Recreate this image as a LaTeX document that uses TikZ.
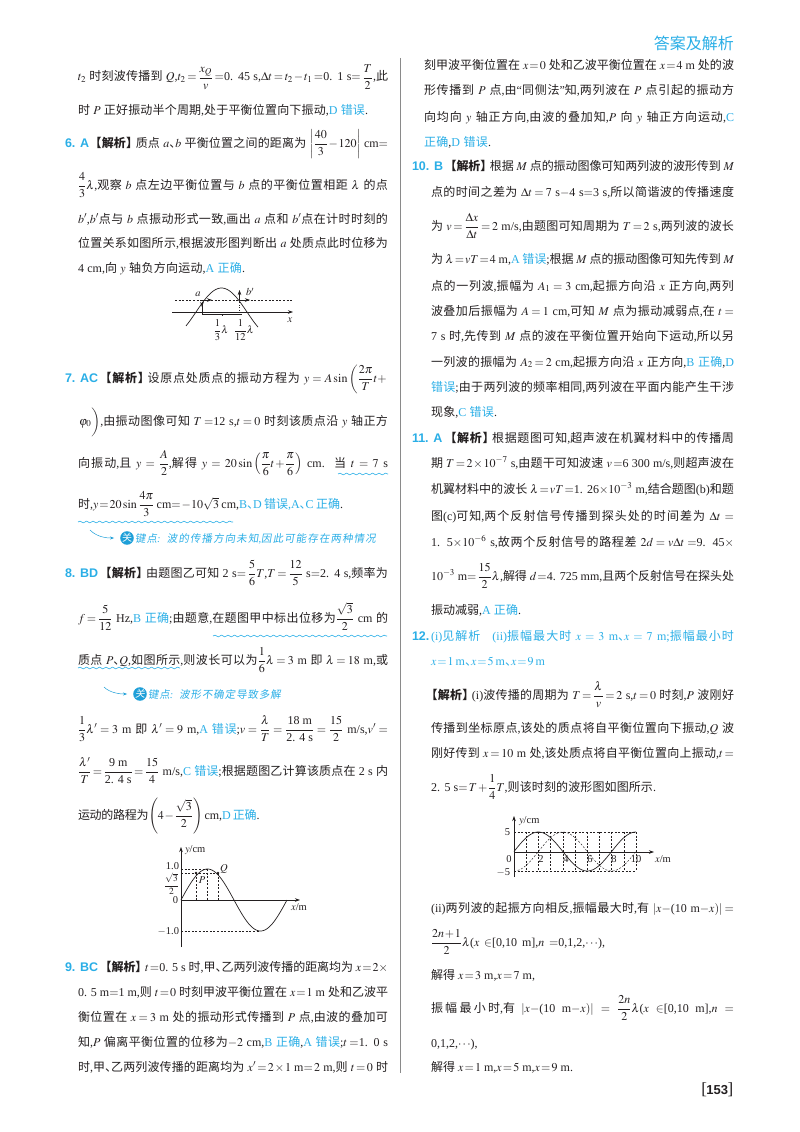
\documentclass[tikz,border=0pt]{standalone}
\usepackage{mathptmx}
\usepackage{fontspec}
\usetikzlibrary{arrows.meta,decorations.pathmorphing}
\setmainfont{Liberation Serif}
\newfontfamily\sansb[BoldFont=Liberation Sans Bold]{Liberation Sans}
\newfontfamily\cjkfont{Noto Sans CJK SC}
\newfontfamily\cjkslfont[FakeSlant=0.15]{Noto Sans CJK SC}
\let\cjkcur\cjkfont
\newcount\cc
\cc="21 \loop \XeTeXcharclass\cc=0 \advance\cc 1 \ifnum\cc<"7F \repeat
\XeTeXcharclass"201C=0 \XeTeXcharclass"201D=0
\cc="3000 \loop \XeTeXcharclass\cc=7 \advance\cc 1 \ifnum\cc<"3040 \repeat
\cc="4E00 \loop \XeTeXcharclass\cc=7 \advance\cc 1 \ifnum\cc<"A000 \repeat
\cc="FF00 \loop \XeTeXcharclass\cc=7 \advance\cc 1 \ifnum\cc<"FFF0 \repeat
\XeTeXinterchartoks 0 7 = {\begingroup\cjkcur}
\XeTeXinterchartoks 4095 7 = {\begingroup\cjkcur}
\XeTeXinterchartoks 7 0 = {\endgroup}
\XeTeXinterchartoks 7 4095 = {\endgroup}
\XeTeXinterchartoks 7 7 = {\hskip 0pt plus 1pt minus 0.3pt\relax}
\AtBeginDocument{\XeTeXinterchartokenstate=1 \thickmuskip=1.5mu plus 4mu\relax \medmuskip=1mu plus 2mu\relax}
\definecolor{ink}{HTML}{231F20}
\definecolor{ans}{HTML}{2AAEE6}
\definecolor{keyb}{HTML}{1E9FD8}
\definecolor{rulec}{HTML}{8A8A8A}
\newcommand\cy[1]{\textcolor{ans}{#1}}
\newcommand\df[2]{{\displaystyle\frac{#1}{#2}}}
\newcommand\dn{、\kern-.5em}
\newcommand\jx{\kern-.45em{\bfseries 【解析】}\kern-.2em}
\newcount\lc
\newcommand\jl[4]{\global\advance\lc 1 \node[ln] (t\the\lc) at (#1,#2) {\makebox[\dimexpr#3pt-#1pt\relax][s]{#4}};}
\newcommand\lab[3]{\global\advance\lc 1 \node[ln,text=ans] (t\the\lc) at (#1,#2) {\sansb\bfseries\fontsize{12.5}{14}\selectfont #3};}
\tikzset{
  ln/.style={anchor=base west,inner sep=0pt,outer sep=0pt,text=ink,font=\fontsize{12}{14}\selectfont},
  small/.style={inner sep=0pt,outer sep=0pt,text=ink,font=\fontsize{10.5}{12}\selectfont},
  wave/.style={ans,line width=.6pt,decorate,decoration={snake,segment length=6.5pt,amplitude=.9pt}},
  axis/.style={ink,line width=.55pt,-{Stealth[length=5pt,width=3.5pt]}},
  curve/.style={ink,line width=.7pt},
  guide/.style={ink,line width=.45pt,dash pattern=on 2pt off 1.6pt},
  keyarrow/.style={keyb,line width=.5pt,-{Stealth[length=4pt,width=3pt]}},
  keydot/.style={circle,fill=keyb,inner sep=0pt,minimum size=12.5pt,text=white,font=\fontsize{10}{11}\selectfont},
  pt/.style={circle,fill=ink,inner sep=0pt,minimum size=2.6pt},
}
\begin{document}
\begin{tikzpicture}[x=1pt,y=-1pt]
\useasboundingbox (0,0) rectangle (800,1132);
% header, rule, page number
\node[anchor=base east,inner sep=0pt,text=ans,font=\fontsize{16}{18}\selectfont] (head) at (734,50) {答案及解析};
\coordinate (r1) at (400,58); \coordinate (r2) at (400,1073);
\draw[rulec,line width=.7pt] (r1) -- (r2);
\node[anchor=base east,inner sep=0pt,text=ink] (pageno) at (733.5,1094) {\fontsize{17}{17}\selectfont [\kern-.5pt{\sansb\bfseries\fontsize{13}{14}\selectfont 153}\kern-.5pt]};
% left column
\jl{78}{81}{388}{$t_2$ 时刻波传播到 $Q$,$t_2=\df{x_Q}{v}=$0. 45 s,$\Delta t=t_2-t_1=$0. 1 s$=\df{T}{2}$,此}
\jl{78}{114}{368}{时 $P$ 正好振动半个周期,处于平衡位置向下振动,\cy{D 错误}.}
\lab{65}{147}{6. A}
\jl{95}{147}{388}{\jx 质点 $a$\dn $b$ 平衡位置之间的距离为 $\left|\df{40}{3}-120\right|$ cm$=$}
\jl{78}{189}{388}{$\df{4}{3}\lambda$,观察 $b$ 点左边平衡位置与 $b$ 点的平衡位置相距 $\lambda$ 的点}
\jl{78}{223}{388}{$b'$,$b'$点与 $b$ 点振动形式一致,画出 $a$ 点和 $b'$点在计时时刻的}
\jl{78}{247}{388}{位置关系如图所示,根据波形图判断出 $a$ 处质点此时位移为}
\jl{78}{272}{245}{4 cm,向 $y$ 轴负方向运动,\cy{A 正确}.}
\lab{65}{382}{7. AC}
\jl{105}{382}{388}{\jx 设原点处质点的振动方程为 $y=A\sin\left(\df{2\pi}{T}t+\right.$}
\jl{78}{425}{388}{$\left.\varphi_0\vphantom{\df{2\pi}{T}}\right)$,由振动图像可知 $T=$12 s,$t=0$ 时刻该质点沿 $y$ 轴正方}
\jl{78}{467}{388}{向振动,且 $y=\df{A}{2}$,解得 $y=20\sin\left(\df{\pi}{6}t+\df{\pi}{6}\right)$ cm. 当 $t=7$ s}
\jl{78}{508}{343}{时,$y=20\sin\df{4\pi}{3}$ cm$=-10\sqrt{3}$ cm,\cy{B\dn D 错误,A\dn C 正确}.}
\lab{65}{577}{8. BD}
\jl{105}{577}{388}{\jx 由题图乙可知 2 s$=\df{5}{6}T$,$T=\df{12}{5}$ s$=$2. 4 s,频率为}
\jl{78}{622}{388}{$f=\df{5}{12}$ Hz,\cy{B 正确};由题意,在题图甲中标出位移为$\df{\sqrt{3}}{2}$ cm 的}
\jl{78}{664}{388}{质点 $P$\dn $Q$,如图所示,则波长可以为$\df{1}{6}\lambda=3$ m 即 $\lambda=18$ m,或}
\jl{78}{733}{388}{$\df{1}{3}\lambda'=3$ m 即 $\lambda'=9$ m,\cy{A 错误};$v=\df{\lambda}{T}=\df{\mbox{18 m}}{\mbox{2. 4 s}}=\df{15}{2}$ m/s,$v'=$}
\jl{78}{775}{388}{$\df{\lambda'}{T}=\df{\mbox{9 m}}{\mbox{2. 4 s}}=\df{15}{4}$ m/s,\cy{C 错误};根据题图乙计算该质点在 2 s 内}
\jl{78}{819}{255}{运动的路程为$\left(4-\df{\sqrt{3}}{2}\right)$ cm,\cy{D 正确}.}
\lab{65}{971}{9. BC}
\jl{105}{971}{388}{\jx $t=$0. 5 s 时,甲\dn 乙两列波传播的距离均为 $x=2\times$}
\jl{78}{996}{388}{0. 5 m$=$1 m,则 $t=0$ 时刻甲波平衡位置在 $x=1$ m 处和乙波平}
\jl{78}{1021}{388}{衡位置在 $x=3$ m 处的振动形式传播到 $P$ 点,由波的叠加可}
\jl{78}{1046}{388}{知,$P$ 偏离平衡位置的位移为$-2$ cm,\cy{B 正确},\cy{A 错误};$t=$1. 0 s}
\jl{78}{1071}{388}{时,甲\dn 乙两列波传播的距离均为 $x'=2\times1$ m$=2$ m,则 $t=0$ 时}
% right column
\jl{424}{70}{734}{刻甲波平衡位置在 $x=0$ 处和乙波平衡位置在 $x=4$ m 处的波}
\jl{424}{95}{734}{形传播到 $P$ 点,由“同侧法”知,两列波在 $P$ 点引起的振动方}
\jl{424}{121}{734}{向均向 $y$ 轴正方向,由波的叠加知,$P$ 向 $y$ 轴正方向运动,\cy{C}}
\jl{424}{146}{491}{\cy{正确},\cy{D 错误}.}
\lab{412}{170}{10. B}
\jl{450}{170}{734}{\jx 根据 $M$ 点的振动图像可知两列波的波形传到 $M$}
\jl{431}{196}{734}{点的时间之差为 $\Delta t=7$ s$-$4 s$=$3 s,所以简谐波的传播速度}
\jl{431}{230}{734}{为 $v=\df{\Delta x}{\Delta t}=2$ m/s,由题图可知周期为 $T=2$ s,两列波的波长}
\jl{431}{263}{734}{为 $\lambda=vT=4$ m,\cy{A 错误};根据 $M$ 点的振动图像可知先传到 $M$}
\jl{431}{290}{734}{点的一列波,振幅为 $A_1=3$ cm,起振方向沿 $x$ 正方向,两列}
\jl{431}{315}{734}{波叠加后振幅为 $A=1$ cm,可知 $M$ 点为振动减弱点,在 $t=$}
\jl{431}{340}{734}{7 s 时,先传到 $M$ 点的波在平衡位置开始向下运动,所以另}
\jl{431}{366}{734}{一列波的振幅为 $A_2=2$ cm,起振方向沿 $x$ 正方向,\cy{B 正确},\cy{D}}
\jl{431}{391}{734}{\cy{错误};由于两列波的频率相同,两列波在平面内能产生干涉}
\jl{431}{416}{497}{现象,\cy{C 错误}.}
\lab{412}{442}{11. A}
\jl{450}{442}{734}{\jx 根据题图可知,超声波在机翼材料中的传播周}
\jl{431}{467}{734}{期 $T=2\times10^{-7}$ s,由题干可知波速 $v=$6 300 m/s,则超声波在}
\jl{431}{493}{734}{机翼材料中的波长 $\lambda=vT=$1. 26$\times10^{-3}$ m,结合题图(b)和题}
\jl{431}{520}{734}{图(c)可知,两个反射信号传播到探头处的时间差为 $\Delta t=$}
\jl{431}{546}{734}{1. 5$\times10^{-6}$ s,故两个反射信号的路程差 $2d=v\Delta t=$9. 45$\times$}
\jl{431}{580}{734}{$10^{-3}$ m$=\df{15}{2}\lambda$,解得 $d=$4. 725 mm,且两个反射信号在探头处}
\jl{431}{614}{521}{振动减弱,\cy{A 正确}.}
\lab{412}{640}{12.}
\jl{431}{640}{734}{\cy{(i)见解析\quad (ii)振幅最大时 $x=3$ m\dn $x=7$ m;振幅最小时}}
\jl{431}{665}{545}{\cy{$x=1$ m\dn $x=5$ m\dn $x=9$ m}}
\jl{431}{699}{734}{\jx (i)波传播的周期为 $T=\df{\lambda}{v}=2$ s,$t=0$ 时刻,$P$ 波刚好}
\jl{431}{732}{734}{传播到坐标原点,该处的质点将自平衡位置向下振动,$Q$ 波}
\jl{431}{757}{734}{刚好传到 $x=10$ m 处,该处质点将自平衡位置向上振动,$t=$}
\jl{431}{791}{656}{2. 5 s$=T+\df{1}{4}T$,则该时刻的波形图如图所示.}
\jl{431}{912}{734}{(ii)两列波的起振方向相反,振幅最大时,有 $|x-$(10 m$-x)|=$}
\jl{431}{946}{605}{$\df{2n+1}{2}\lambda$($x\in$[0,10 m],$n=$0,1,2,$\cdots$),}
\jl{431}{979}{535}{解得 $x=3$ m,$x=7$ m,}
\jl{431}{1012}{734}{振幅最小时,有 $|x-$(10 m$-x)|=\df{2n}{2}\lambda$($x\in$[0,10 m],$n=$}
\jl{431}{1047}{492}{0,1,2,$\cdots$),}
\jl{431}{1071}{573}{解得 $x=1$ m,$x=5$ m,$x=9$ m.}
% wavy underlines
\coordinate (w1a) at (338,474); \coordinate (w1b) at (388,474); \draw[wave] (w1a) -- (w1b);
\coordinate (w2a) at (78,522); \coordinate (w2b) at (233,522); \draw[wave] (w2a) -- (w2b);
\coordinate (w3a) at (213,636); \coordinate (w3b) at (387,636); \draw[wave] (w3a) -- (w3b);
\coordinate (w4a) at (78,668); \coordinate (w4b) at (180,668); \draw[wave] (w4a) -- (w4b);
% key points
\node[keydot] (k1) at (127,538) {关};
\coordinate (k1s) at (90,530);
\draw[keyarrow,shorten >=6pt] (k1s) .. controls (97,537) and (106,538) .. (k1);
\let\cjkcur\cjkslfont
\global\advance\lc 1 \node[ln,text=ans,font=\fontsize{10.5}{12}\selectfont\itshape] (t\the\lc) at (135,542) {\makebox[241pt][s]{键点: 波的传播方向未知,因此可能存在两种情况}};
\node[keydot] (k2) at (140,694) {关};
\coordinate (k2s) at (104,687);
\draw[keyarrow,shorten >=6pt] (k2s) .. controls (110,693) and (120,694) .. (k2);
\global\advance\lc 1 \node[ln,text=ans,font=\fontsize{10.5}{12}\selectfont\itshape] (t\the\lc) at (148,698) {\makebox[133pt][s]{键点: 波形不确定导致多解}};
\let\cjkcur\cjkfont
% figure 1
\draw[guide,line width=.6pt] (175,300) -- (292,300);
\draw[axis] (172,312) -- (293,312);
\draw[curve] plot[domain=186:258,samples=60] (\x,{312-24*cos((\x-221.5)/25.5*90)});
\draw[ink,line width=.5pt] (202,303) -- (202,314) -- (242,314);
\draw[ink,line width=.5pt] (222,314) -- (222,315.5);
\draw[guide,dotted] (239.5,300) -- (239.5,314);
\draw[axis] (202,300) -- (212,300);
\draw[axis] (202,302) -- (202,307);
\draw[axis] (239.5,300) -- (239.5,290);
\draw[axis] (239.5,300) -- (250,300);
\node[small] (fa) at (198,294.5) {$a$};
\node[small] (fb) at (250,292) {$b'$};
\node[small] (fx) at (290,320) {$x$};
\node[small] (f13) at (221,330) {$\df{1}{3}\lambda$};
\node[small] (f112) at (244,330) {$\df{1}{12}\lambda$};
% figure 2
\draw[axis] (181,947) -- (181,847);
\draw[axis] (181,900) -- (300,900);
\draw[curve] plot[domain=181:287,samples=80] (\x,{900-31*sin((\x-181)/106*360)});
\draw[guide] (181,869) -- (207,869);
\draw[guide] (181,873) -- (218,873);
\draw[guide] (196,873) -- (196,900);
\draw[guide] (207,869) -- (207,900);
\draw[guide] (218,873) -- (218,900);
\draw[guide] (181,931) -- (260,931);
\node[pt] (pP) at (196,873) {}; \node[pt] (pQ) at (218,873) {};
\node[small,anchor=west] (g1) at (185,850) {$y$/cm};
\node[small,anchor=east] (g2) at (179,866) {1.0};
\node[small,anchor=east] (g3) at (179,884) {\fontsize{9.5}{11}\selectfont $\df{\sqrt{3}}{2}$};
\node[small,anchor=east] (g4) at (178,900) {0};
\node[small,anchor=east] (g5) at (179,931) {$-$1.0};
\node[small] (g6) at (299,907) {$x$/m};
\node[small] (g7) at (202,880) {$P$};
\node[small] (g8) at (224,869) {$Q$};
% figure 3
\foreach \i in {1,...,10} {\draw[guide] ({514+12.2*\i},832) -- ({514+12.2*\i},871);}
\draw[guide] (514,832) -- (636,832);
\draw[guide] (514,871) -- (636,871);
\draw[axis] (514,877) -- (514,816);
\draw[axis] (514,852) -- (654,852);
\draw[curve] plot[domain=0:10,samples=80] ({514+12.2*\x},{851.5-19.5*sin(\x*45)});
\draw[guide] plot[domain=0.3:10,samples=60] ({514+12.2*\x},{851.5+19.5*cos(\x*45)});
\node[small,anchor=west] (h1) at (519,821) {$y$/cm};
\node[small,anchor=east] (h2) at (510,832) {5};
\node[small] (h3) at (509,859) {0};
\node[small,anchor=east] (h4) at (510,872) {$-$5};
\node[small] (h5) at (541,859) {2};
\node[small] (h6) at (566,859) {4};
\node[small] (h7) at (590,859) {6};
\node[small] (h8) at (614,859) {8};
\node[small] (h9) at (636,859) {10};
\node[small] (h10) at (663,859) {$x$/m};
\end{tikzpicture}
\end{document}
